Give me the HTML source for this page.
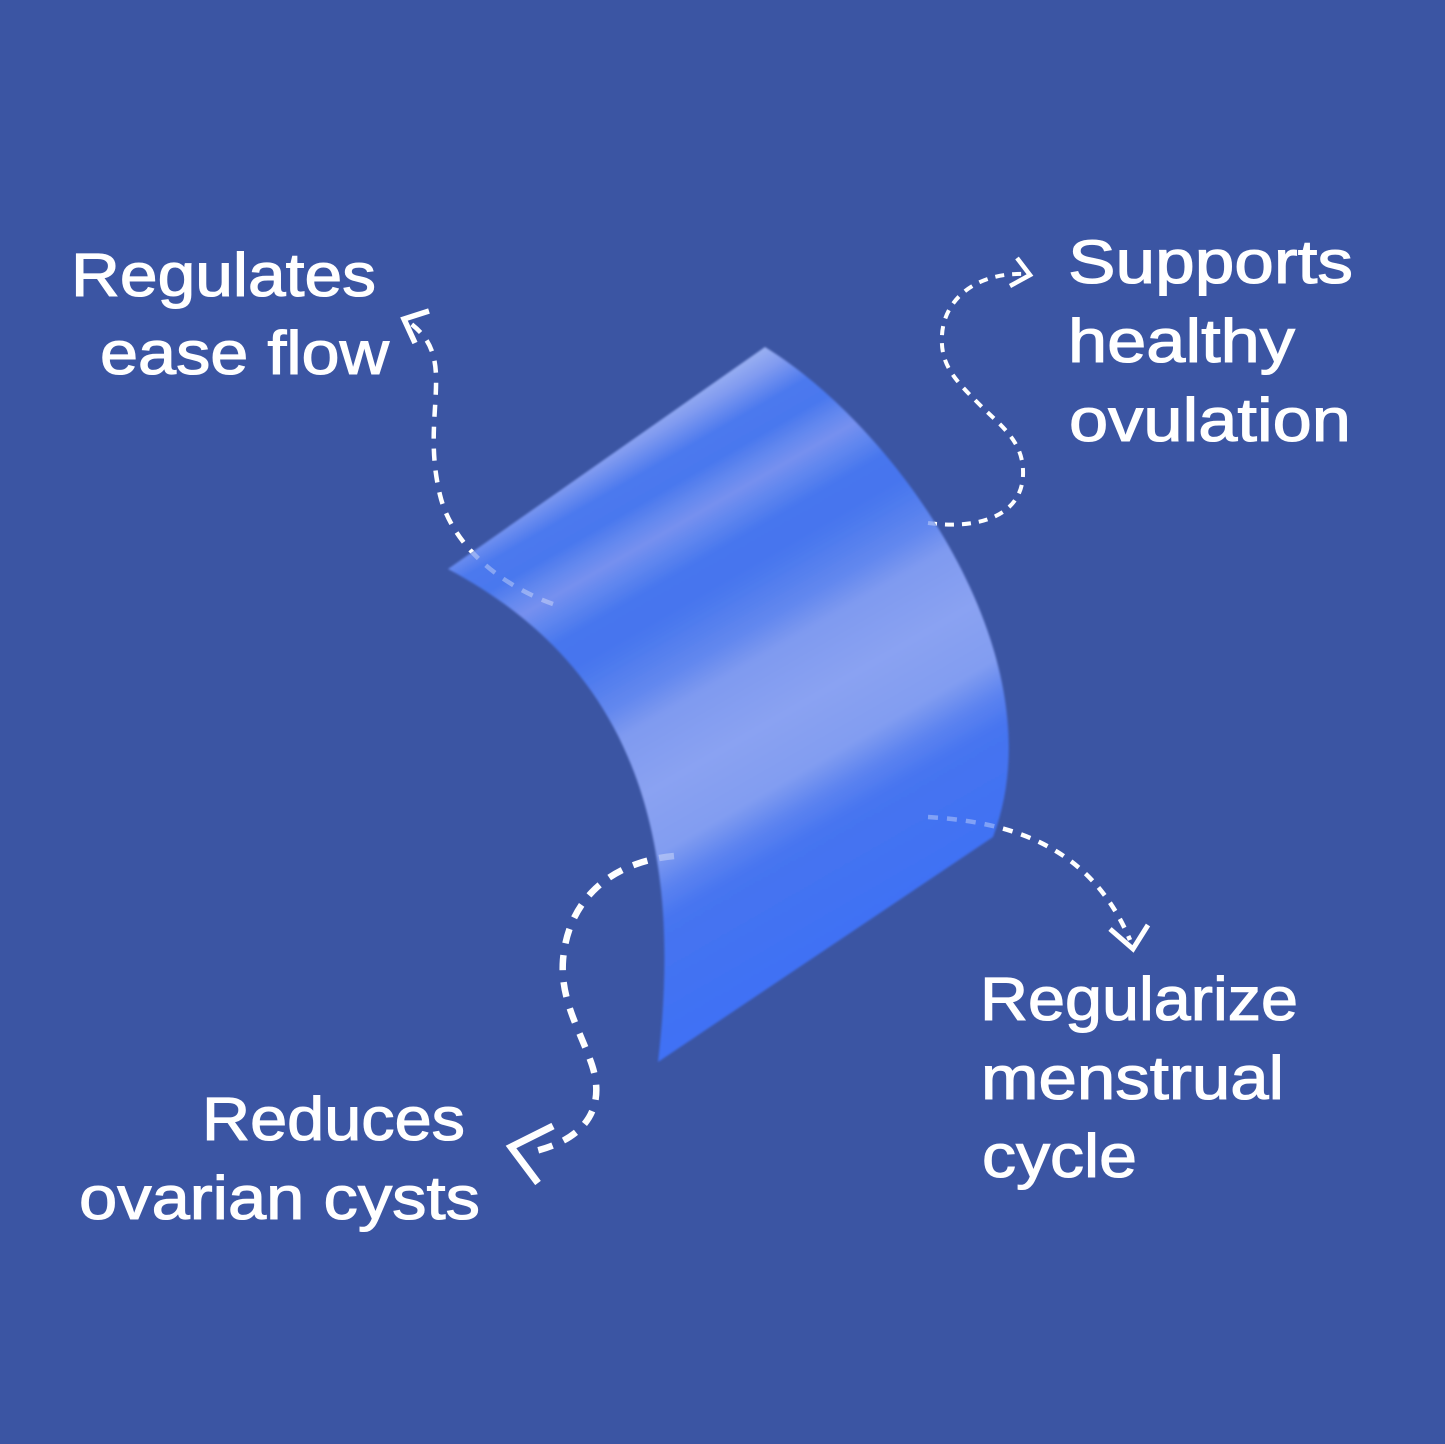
<!DOCTYPE html>
<html>
<head>
<meta charset="utf-8">
<style>
  html,body{margin:0;padding:0;background:#3b55a3;}
  svg{display:block;}
  text{font-family:"Liberation Sans",Arial,sans-serif;font-size:61px;fill:#fff;stroke:#fff;stroke-width:1.1px;}
</style>
</head>
<body>
<svg width="1445" height="1444" viewBox="0 0 1445 1444" xmlns="http://www.w3.org/2000/svg">
  <defs>
    <linearGradient id="g" gradientUnits="userSpaceOnUse" x1="341.5" y1="591.5" x2="625" y2="1082.5">
      <stop offset="0" stop-color="#9ab0f2"/>
      <stop offset="0.035" stop-color="#819bf0"/>
      <stop offset="0.085" stop-color="#4c79ee"/>
      <stop offset="0.13" stop-color="#4a78ee"/>
      <stop offset="0.165" stop-color="#6388ef"/>
      <stop offset="0.195" stop-color="#7690ef"/>
      <stop offset="0.23" stop-color="#5f86ef"/>
      <stop offset="0.27" stop-color="#4776ee"/>
      <stop offset="0.32" stop-color="#4675ee"/>
      <stop offset="0.36" stop-color="#507cee"/>
      <stop offset="0.42" stop-color="#6388ef"/>
      <stop offset="0.47" stop-color="#7f9af0"/>
      <stop offset="0.577" stop-color="#8aa2f2"/>
      <stop offset="0.68" stop-color="#829df1"/>
      <stop offset="0.737" stop-color="#5c83f0"/>
      <stop offset="0.79" stop-color="#4674f0"/>
      <stop offset="1" stop-color="#3f71f5"/>
    </linearGradient>
    <filter id="soft" x="-5%" y="-5%" width="110%" height="110%">
      <feGaussianBlur stdDeviation="1.1"/>
    </filter>
    <mask id="fade" maskUnits="userSpaceOnUse" x="0" y="0" width="1445" height="1444">
      <rect x="0" y="0" width="1445" height="1444" fill="#fff"/>
      <path d="M448,569 L765,347 C900,430 1060,660 993,837 L658,1062 C690,790 600,650 448,569 Z" fill="#555"/>
    </mask>
  </defs>

  <rect x="0" y="0" width="1445" height="1444" fill="#3b55a3"/>

  <!-- shape -->
  <path d="M448,569 L765,347 C900,430 1060,660 993,837 L658,1062 C690,790 600,650 448,569 Z" fill="url(#g)" filter="url(#soft)"/>

  <!-- connectors -->
  <g mask="url(#fade)" fill="none" stroke="#fff" stroke-linecap="butt" stroke-linejoin="miter">
    <!-- Regulates ease flow -->
    <path d="M553,604 C500,585 452,545 440,495 C428,445 437,410 436,375 C435,350 427,336 410,323" stroke-width="4.5" stroke-dasharray="12 10"/>
    <polyline points="429,311 404,319 415,343" stroke-width="5.5"/>

    <!-- Supports healthy ovulation -->
    <path d="M928,523 C980,530 1025,515 1023,470 C1022,440 1000,425 980,405 C955,380 940,365 942,335 C944,300 975,272 1026,274" stroke-width="4" stroke-dasharray="9 8"/>
    <polyline points="1017,258 1030,275 1010,286" stroke-width="4.5"/>

    <!-- Reduces ovarian cysts -->
    <path d="M674,856 C610,862 568,900 563,960 C560,1000 580,1030 592,1065 C605,1105 590,1140 527,1153" stroke-width="6.5" stroke-dasharray="15 12"/>
    <polyline points="553,1126 511,1147 538,1183" stroke-width="7"/>

    <!-- Regularize menstrual cycle -->
    <path d="M928,817 C1010,822 1090,845 1130,940" stroke-width="4.5" stroke-dasharray="10 9"/>
    <polyline points="1110,929 1133,949 1148,925" stroke-width="5"/>
  </g>

  <!-- labels -->
  <text x="71" y="296" textLength="305" lengthAdjust="spacingAndGlyphs">Regulates</text>
  <text x="100" y="374" textLength="289" lengthAdjust="spacingAndGlyphs">ease flow</text>

  <text x="1068" y="283" textLength="285" lengthAdjust="spacingAndGlyphs">Supports</text>
  <text x="1068" y="362" textLength="227" lengthAdjust="spacingAndGlyphs">healthy</text>
  <text x="1069" y="441" textLength="282" lengthAdjust="spacingAndGlyphs">ovulation</text>

  <text x="980" y="1020" textLength="318" lengthAdjust="spacingAndGlyphs">Regularize</text>
  <text x="981" y="1099" textLength="303" lengthAdjust="spacingAndGlyphs">menstrual</text>
  <text x="982" y="1177" textLength="155" lengthAdjust="spacingAndGlyphs">cycle</text>

  <text x="202" y="1140" textLength="263" lengthAdjust="spacingAndGlyphs">Reduces</text>
  <text x="79" y="1219" textLength="401" lengthAdjust="spacingAndGlyphs">ovarian cysts</text>
</svg>
</body>
</html>
